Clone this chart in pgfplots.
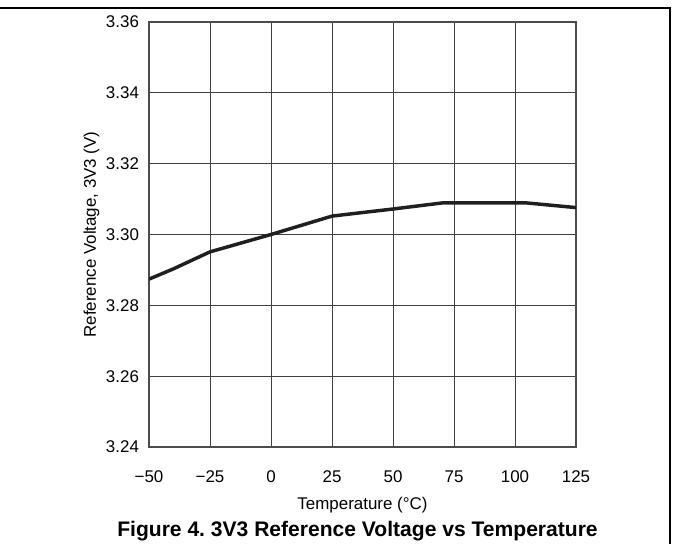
\documentclass[border=0pt]{standalone}
\usepackage{pgfplots}
\pgfplotsset{compat=1.18}
\usepackage{fontspec}
\setmainfont{Liberation Sans}
\begin{document}
\begin{tikzpicture}[x=0.75pt,y=0.75pt]
\useasboundingbox (0,0) rectangle (673,544);
\draw[line width=1.5pt] (0,536) -- (670,536) -- (670,0);
\begin{axis}[
 at={(111.75pt,72.75pt)}, anchor=south west,
 scale only axis, width=320.25pt, height=318.75pt,
 xmin=-50, xmax=125, ymin=3.24, ymax=3.36,
 xtick={-50,-25,0,25,50,75,100,125},
 xticklabels={−50,−25,0,25,50,75,100,125},
 ytick={3.24,3.26,3.28,3.30,3.32,3.34,3.36},
 yticklabels={3.24,3.26,3.28,3.30,3.32,3.34,3.36},
 grid=major,
 major grid style={black!75, line width=0.75pt},
 axis line style={black!70, line width=1pt},
 major tick length=0pt,
 tick label style={font=\fontsize{12.7}{15}\selectfont},
 xticklabel style={yshift=-14.5pt},
 yticklabel style={xshift=-4pt},
 xlabel={Temperature (°C)},
 xlabel style={yshift=-3.5pt},
 ylabel={Reference Voltage, 3V3 (V)},
 ylabel style={yshift=-2pt},
 label style={font=\fontsize{12.7}{15}\selectfont},
]
\addplot[black!88, line width=2.6pt, line join=round] coordinates {
 (-50,3.2874) (-40,3.2903) (-25,3.2951) (0,3.3000) (25,3.3052)
 (50,3.3072) (70,3.3089) (105,3.3089) (125,3.3076)
};
\end{axis}
\node[font=\bfseries\fontsize{15.8}{18}\selectfont] at (357.5,13) {Figure 4.\ 3V3 Reference Voltage vs Temperature};
\end{tikzpicture}
\end{document}
